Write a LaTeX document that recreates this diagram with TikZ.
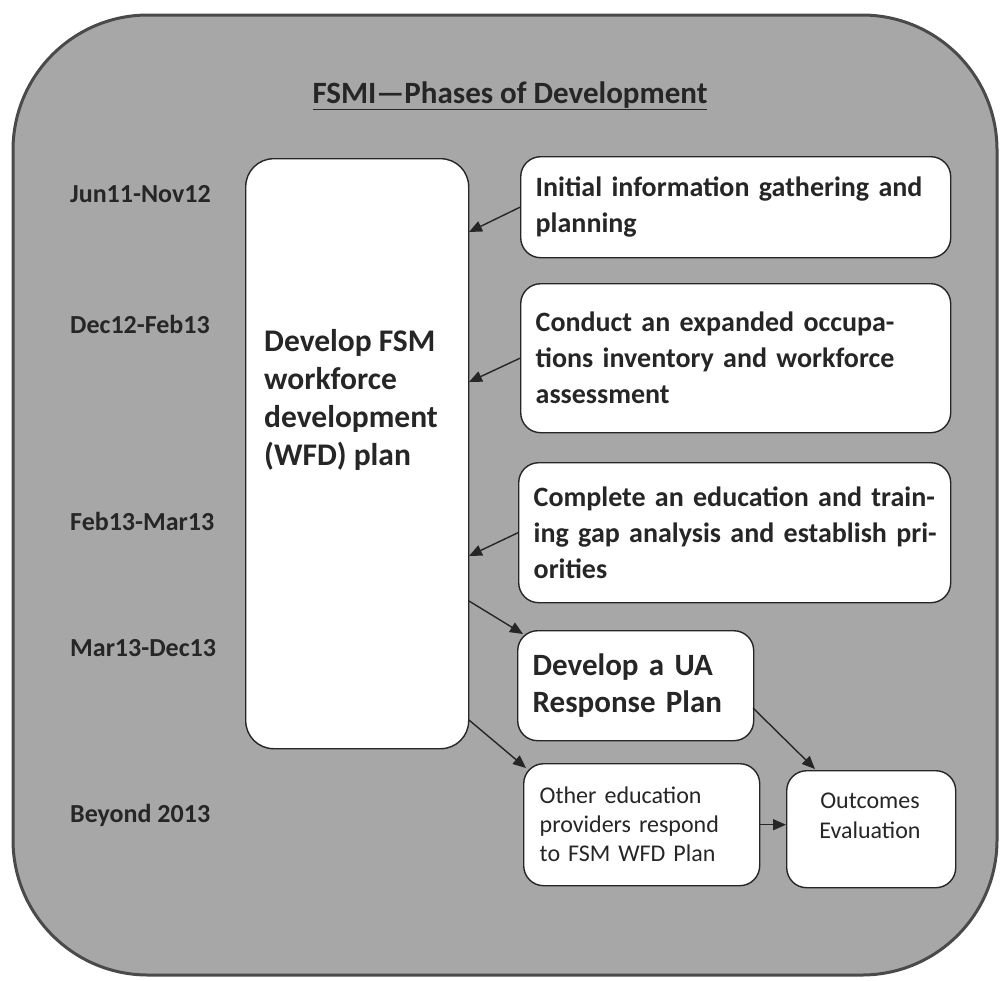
\documentclass[tikz,border=0pt]{standalone}
\usepackage{fontspec}
\setmainfont{Carlito}
\usetikzlibrary{arrows.meta,calc}
\definecolor{panel}{HTML}{A7A7A7}
\definecolor{rim}{HTML}{4A4A4A}
\definecolor{ink}{HTML}{262626}
\begin{document}
\begin{tikzpicture}[x=1pt,y=-1pt,
  box/.style={draw=ink, line width=1.4pt, fill=white, rounded corners=20pt,
    anchor=north west, inner sep=0pt},
  phase/.style={box, text=ink, align=left, inner xsep=15pt,
    font=\fontsize{28}{36}\selectfont\bfseries},
  datelbl/.style={font=\fontsize{26}{30}\selectfont\bfseries, text=ink,
    anchor=base west, inner sep=0pt},
  plain/.style={text=ink, inner sep=0pt},
  arr/.style={draw=ink, line width=1.4pt, -{Triangle[length=13pt,width=11pt]}},
]
\useasboundingbox (0,0) rectangle (1000,980);
\fill[white] (0,0) rectangle (1000,980);
\draw[rim, fill=panel, line width=3pt, rounded corners=135pt] (13,15) rectangle (997,975);

% title
\node[plain, anchor=base, font=\fontsize{31}{36}\selectfont\bfseries] (title) at (510,103)
  {\underline{FSMI—Phases of Development}};

% dates
\node[datelbl] (d1) at (70,202) {Jun11-Nov12};
\node[datelbl] (d2) at (70,333) {Dec12-Feb13};
\node[datelbl] (d3) at (70,530) {Feb13-Mar13};
\node[datelbl] (d4) at (70,656) {Mar13-Dec13};
\node[datelbl] (d5) at (70,822) {Beyond 2013};

% main box
\node[box, rounded corners=28pt, minimum width=223pt, minimum height=590pt] (main) at (245,158) {};
\node[plain, anchor=west, align=left, font=\fontsize{31.5}{38}\selectfont\bfseries] (maintext) at (264,400)
  {Develop FSM\\workforce\\development\\(WFD) plan};

% phase boxes
\node[phase, minimum width=430pt, minimum height=101pt, text width=400pt] (b1) at (520,156)
  {Initial information gathering and\\planning};
\node[phase, minimum width=430pt, minimum height=149pt, text width=400pt] (b2) at (520,283)
  {Conduct an expanded occupa-\\tions inventory and workforce\\assessment};
\node[phase, minimum width=432pt, minimum height=140pt, text width=402pt] (b3) at (518,462)
  {\mbox{Complete an education and train-}\\\mbox{ing gap analysis and establish pri-}\\orities};
\node[phase, minimum width=236pt, minimum height=110pt, text width=206pt,
  font=\fontsize{31}{37}\selectfont\bfseries] (ua) at (517,630)
  {Develop a UA\\Response Plan};
\node[phase, minimum width=234pt, minimum height=122pt, text width=204pt,
  inner xsep=16pt, font=\fontsize{24}{29}\selectfont] (oth) at (523,763)
  {Other education\\providers respond\\to FSM WFD Plan};
\node[box, minimum width=169pt, minimum height=117pt] (out) at (786,770) {};
\node[plain, align=center, font=\fontsize{24}{30}\selectfont] (outtext) at (870,816)
  {Outcomes\\Evaluation};

% arrow targets
\coordinate (t1) at (469,232);
\coordinate (t2) at (469,382);
\coordinate (t3) at (469,556);
\coordinate (s4) at (469,601);
\coordinate (t4) at (523,634);
\coordinate (s5) at (469,720);
\coordinate (t5) at (526,768);
\coordinate (s6) at (753,708);
\coordinate (t6) at (815,769);

\draw[arr] (b1.west) -- (t1);
\draw[arr] (b2.west) -- (t2);
\draw[arr] (b3.west) -- (t3);
\draw[arr] (s4) -- (t4);
\draw[arr] (s5) -- (t5);
\draw[arr] (s6) -- (t6);
\draw[arr] (oth.east) -- (oth.east -| out.west);
\end{tikzpicture}
\end{document}
